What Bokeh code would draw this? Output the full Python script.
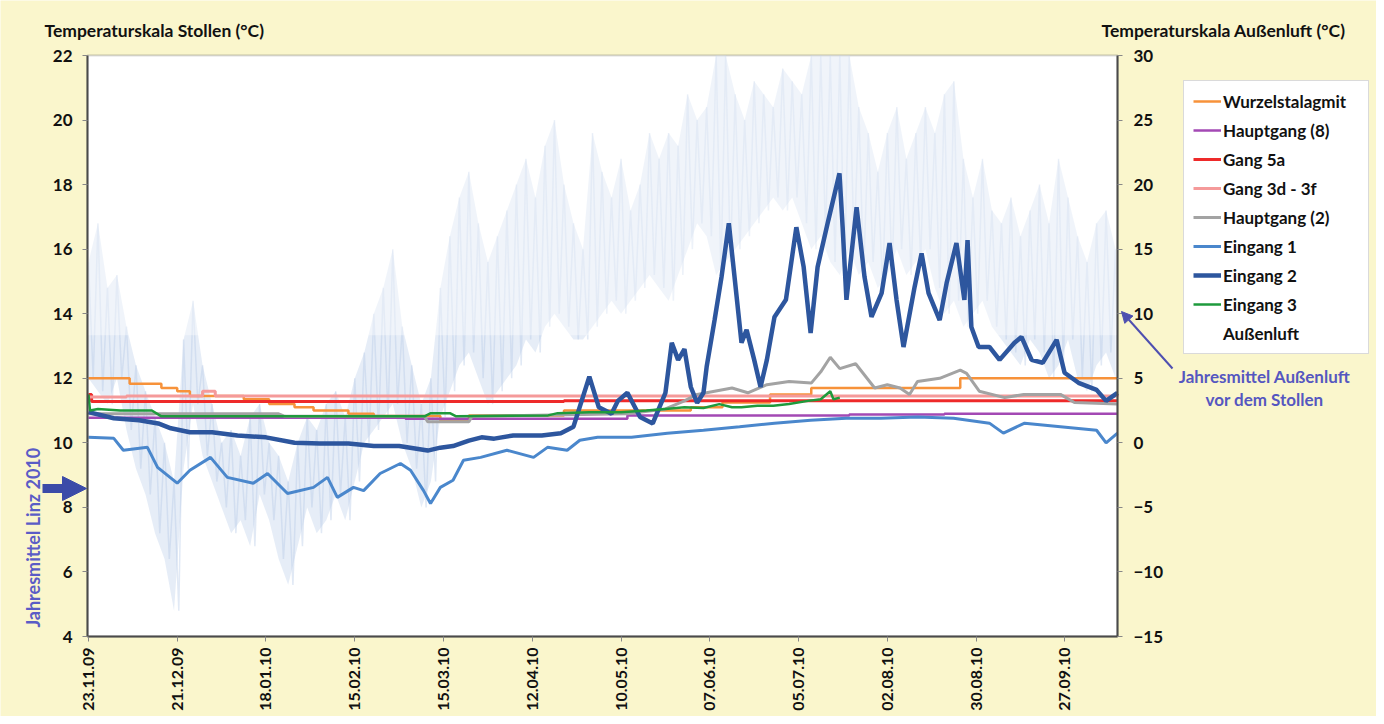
import math
from bokeh.plotting import figure
from bokeh.models import (Range1d, LinearAxis, FixedTicker, Legend, LegendItem,
                          Label, Arrow, NormalHead, BoxAnnotation)
from bokeh.embed import file_html
from bokeh.resources import INLINE

FONT = "Lato"

# ---------------- data ----------------
# x = days since 23.11.2009
tick_days = [0, 28, 56, 84, 112, 140, 168, 196, 224, 252, 280, 308]
tick_labels = ["23.11.09", "21.12.09", "18.01.10", "15.02.10", "15.03.10", "12.04.10",
               "10.05.10", "07.06.10", "05.07.10", "02.08.10", "30.08.10", "27.09.10"]
left_ticks = [4, 6, 8, 10, 12, 14, 16, 18, 20, 22]
right_ticks = [-15, -10, -5, 0, 5, 10, 15, 20, 25, 30]

# Außenluft (right axis), sampled every 3 days: daily max / min
aussen_days = list(range(0, 325, 3))
aussen_max = [14, 17, 12, 13, 9, 6, 4, 2, 0, -3,
              8, 11, 6, 3, 0, 1, -1, 2, 3, 0,
              -1, -3, 0, 2, 1, 3, 4, 2, 5, 7,
              10, 12, 15, 9, 6, 3, 5, 12, 16, 19,
              21, 17, 14, 16, 18, 20, 22, 19, 23, 25,
              20, 17, 15, 24, 21, 19, 22, 18, 20, 24,
              22, 24, 23, 27, 25, 26, 30, 30, 27, 25,
              28, 27, 26, 29, 28, 27, 30, 30, 30, 30,
              30, 26, 24, 21, 24, 26, 22, 24, 26, 24,
              27, 28, 22, 19, 22, 18, 17, 19, 16, 18,
              20, 17, 22, 19, 16, 14, 17, 18, 15]
aussen_min = [5, 4, 3, 5, 1, -2, -4, -7, -9, -13,
              -2, 3, -1, -3, -5, -7, -6, -8, -4, -6,
              -9, -11, -8, -5, -7, -6, -4, -6, -3, 0,
              1, 2, 3, 0, -2, -5, -3, 2, 4, 6,
              7, 5, 3, 4, 5, 6, 8, 7, 9, 10,
              9, 8, 8, 9, 10, 11, 10, 11, 12, 13,
              12, 11, 13, 15, 17, 16, 13, 14, 15, 16,
              17, 18, 19, 18, 19, 17, 15, 16, 14, 13,
              15, 13, 14, 12, 13, 15, 13, 14, 15, 12,
              10, 11, 9, 10, 11, 9, 8, 7, 6, 8,
              7, 5, 6, 8, 5, 4, 6, 7, 5]

# Wurzelstalagmit
wurzel_days = [0, 13, 23, 28, 32, 49, 57, 65, 71, 82, 90, 111, 120, 150, 190, 200, 215, 228, 275, 324.6]
wurzel_vals = [12.0, 11.83, 11.7, 11.6, 11.45, 11.35, 11.2, 11.1, 11.0, 10.9, 10.83, 10.68, 10.85,
               11.0, 11.1, 11.25, 11.5, 11.7, 12.0, 12.0]
# Hauptgang (8)
hg8_days = [0, 100, 170, 240, 270, 324.6]
hg8_vals = [10.78, 10.75, 10.85, 10.88, 10.9, 10.9]
# Gang 5a
g5a_days = [0, 1, 150, 324.6]
g5a_vals = [11.5, 11.28, 11.3, 11.3]
# Gang 3d - 3f
g3d_days = [0, 12, 36, 40, 324.6]
g3d_vals = [11.42, 11.45, 11.6, 11.45, 11.48]
# Hauptgang (2)
hg2_days = [0, 60, 62, 106, 107, 120, 121, 170, 182, 188, 192, 197.5, 203, 208, 214, 221, 228, 231,
            234, 237, 242, 248, 252, 256, 259, 261.5, 268.5, 275, 277, 281, 289, 295, 306.6, 311, 324.6]
hg2_vals = [10.9, 10.9, 10.82, 10.82, 10.65, 10.65, 10.82, 10.9, 11.05, 11.3, 11.5, 11.6, 11.7, 11.55,
            11.8, 11.9, 11.85, 12.2, 12.65, 12.3, 12.45, 11.7, 11.8, 11.7, 11.5, 11.9, 12.0, 12.25,
            12.15, 11.6, 11.4, 11.5, 11.5, 11.25, 11.2]
# Eingang 1
e1_days = [0, 8, 11, 18.6, 21.8, 28, 32, 38.5, 43.8, 52, 56.5, 62.8, 71, 75.4, 78.5, 83.6, 86.8, 92,
           98.4, 101.6, 105.7, 107.9, 111, 115, 118.3, 123.7, 132, 140.4, 144.8, 151, 155, 160.6,
           171.3, 182.6, 194, 205.4, 216.4, 227.8, 239, 250, 261.5, 272.9, 284.2, 288.6, 295.3,
           306.6, 318, 321, 324.6]
e1_vals = [10.17, 10.14, 9.77, 9.86, 9.24, 8.75, 9.15, 9.55, 8.93, 8.75, 9.05, 8.43, 8.62, 8.93,
           8.31, 8.62, 8.52, 9.05, 9.36, 9.15, 8.52, 8.12, 8.62, 8.84, 9.46, 9.55, 9.77, 9.55, 9.86,
           9.77, 10.08, 10.17, 10.17, 10.3, 10.39, 10.5, 10.61, 10.7, 10.76, 10.76, 10.8, 10.76,
           10.61, 10.3, 10.61, 10.5, 10.39, 10.0, 10.3]
# Eingang 2
e2_days = [0, 8, 16, 22, 26, 32, 39, 47, 56, 65, 73, 82, 90, 98, 107, 111, 115, 120, 124, 128, 134,
           143, 149, 153, 158, 161, 165, 167, 170, 174, 178, 182, 184, 186, 188, 190, 192, 194, 195,
           197.5, 199.7, 202, 204, 206, 207.6, 210, 212, 214, 216.4, 220, 223.3, 225.6, 227.8, 230,
           233.4, 236.9, 237.9, 239.1, 242.3, 244.8, 247, 250.2, 252.7, 254.9, 257.1, 260.6, 262.8,
           265, 268.5, 270.7, 273.8, 276.3, 277.3, 278.5, 280.8, 284.2, 287.4, 292.1, 294.3, 297.5,
           301, 305.4, 307.9, 312.3, 318, 321, 324.6]
e2_vals = [10.95, 10.76, 10.7, 10.6, 10.45, 10.33, 10.33, 10.23, 10.17, 10.0, 9.98, 9.98, 9.9, 9.9,
           9.76, 9.85, 9.9, 10.07, 10.17, 10.13, 10.23, 10.23, 10.3, 10.5, 12.05, 11.1, 10.9, 11.3,
           11.55, 10.8, 10.6, 11.55, 13.1, 12.57, 12.9, 11.73, 11.24, 11.55, 12.35, 13.8, 15.14, 16.8,
           14.95, 13.1, 13.5, 12.57, 11.73, 12.57, 13.9, 14.43, 16.68, 15.45, 13.4, 15.45, 16.9,
           18.35, 16.68, 14.43, 17.3, 15.14, 13.9, 14.64, 16.19, 14.43, 12.97, 14.83, 15.87, 14.64,
           13.8, 14.95, 16.19, 14.43, 16.28, 13.59, 12.97, 12.97, 12.57, 13.1, 13.28, 12.57, 12.48,
           13.19, 12.17, 11.86, 11.64, 11.3, 11.55]
# Eingang 3
e3_days = [0, 0.5, 3, 10, 20, 23, 60, 106, 108, 114, 116, 145, 148, 158, 168, 176, 182, 188, 194,
           199, 203, 206, 211, 216, 221, 227, 231, 234, 235, 237]
e3_vals = [11.5, 11.0, 11.05, 11.0, 11.0, 10.82, 10.82, 10.82, 10.92, 10.92, 10.82, 10.85, 10.92,
           10.95, 10.95, 11.0, 11.05, 11.1, 11.08, 11.2, 11.1, 11.1, 11.15, 11.15, 11.2, 11.3, 11.35,
           11.6, 11.35, 11.4]

# ---------------- layout ----------------
W, H = 1376, 716                      # figure size (px)
CL, CR, CT, CB = 87, 1117, 55, 636    # chart area inside the figure (px from top-left)
X0, X1 = -0.3, 324.6                  # visible day span of the chart area
Y0, Y1 = 4, 22                        # left axis span
R0, R1 = -15, 30                      # right axis span
PALE_FROM = 13.33                     # left-axis level above which the outdoor band is paler


def span(a0, a1, p0, p1, total, invert=False):
    s = (a1 - a0) / (p1 - p0)
    if invert:   # pixels counted from top
        return a0 - (total - p1) * s, a1 + p0 * s
    return a0 - p0 * s, a1 + (total - p1) * s


xs, xe = span(X0, X1, CL, CR, W)
ys, ye = span(Y0, Y1, CT, CB, H, invert=True)
rs, re_ = span(R0, R1, CT, CB, H, invert=True)

BG = "#FAF6CC"
p = figure(width=W, height=H, output_backend="svg", toolbar_location=None,
           x_range=Range1d(xs, xe), y_range=Range1d(ys, ye),
           x_axis_location=None, y_axis_location=None,
           min_border=0, min_border_left=0, min_border_right=0,
           min_border_top=0, min_border_bottom=0,
           background_fill_color=BG, border_fill_color=BG)
p.outline_line_color = None
p.grid.visible = False
p.extra_y_ranges = {"aussen": Range1d(rs, re_)}

# white chart area with frame (lowest render level)
p.add_layout(BoxAnnotation(left=X0, right=X1, bottom=Y0, top=Y1, fill_color="white",
                           fill_alpha=1, line_color="#4A4A4A", line_width=2, level="image"))

# axes fixed on the chart area edges
xa = LinearAxis(fixed_location=Y0, bounds=(X0, X1), ticker=FixedTicker(ticks=tick_days))
xa.major_label_overrides = {d: s for d, s in zip(tick_days, tick_labels)}
xa.major_label_orientation = math.pi / 2
ya = LinearAxis(fixed_location=X0, bounds=(Y0, Y1), ticker=FixedTicker(ticks=left_ticks))
ra = LinearAxis(fixed_location=X1, bounds=(R0, R1), y_range_name="aussen",
                ticker=FixedTicker(ticks=right_ticks))
p.add_layout(xa, "below")
p.add_layout(ya, "left")
p.add_layout(ra, "right")
for ax in (xa, ya, ra):
    ax.major_label_text_font = FONT
    ax.major_label_text_font_style = "bold"
    ax.major_label_text_font_size = "17px"
    ax.major_label_text_color = "#111111"
    ax.major_tick_in = 0
    ax.major_tick_out = 5
    ax.major_tick_line_color = "#888888"
    ax.minor_tick_line_color = None
    ax.axis_line_color = "#4A4A4A"
    ax.axis_line_width = 2
xa.major_label_text_font_size = "16px"
ya.major_label_standoff = 10
ra.major_label_standoff = 11
xa.major_label_standoff = 6

# Außenluft: band between daily min and max plus zigzag texture
p.varea(x=aussen_days, y1=aussen_min, y2=aussen_max, y_range_name="aussen",
        fill_color="#C4D4EB", fill_alpha=0.42, level="underlay")
aus_x, aus_y = [], []
for d, hi, lo in zip(aussen_days, aussen_max, aussen_min):
    aus_x += [d, min(d + 1.5, X1)]
    aus_y += [hi, lo]
p.line(aus_x, aus_y, y_range_name="aussen", line_color="#B4C8E6", line_alpha=0.4,
       line_width=1.5, level="underlay")
# the upper part of the outdoor band appears paler in the original
p.add_layout(BoxAnnotation(left=X0, right=X1, bottom=PALE_FROM, top=Y1, fill_color="white",
                           fill_alpha=0.4, line_color=None, level="underlay"))

r_wu = p.step(wurzel_days, wurzel_vals, mode="after", line_color="#F7923A", line_width=2.5)
r_h8 = p.step(hg8_days, hg8_vals, mode="after", line_color="#A349B4", line_width=2.5)
r_5a = p.step(g5a_days, g5a_vals, mode="after", line_color="#EE2A2A", line_width=3)
r_3d = p.step(g3d_days, g3d_vals, mode="after", line_color="#F59A9A", line_width=3)
r_h2 = p.line(hg2_days, hg2_vals, line_color="#A3A3A3", line_width=3)
r_e1 = p.line(e1_days, e1_vals, line_color="#4A87CC", line_width=3)
r_e2 = p.line(e2_days, e2_vals, line_color="#2D569E", line_width=4.5)
r_e3 = p.line(e3_days, e3_vals, line_color="#1E9A3C", line_width=2.5)
r_aus_leg = p.line([], [], line_color="white", line_width=2.5)

# screen positions below are px from the figure's bottom-left
legend = Legend(items=[
    LegendItem(label="Wurzelstalagmit", renderers=[r_wu]),
    LegendItem(label="Hauptgang (8)", renderers=[r_h8]),
    LegendItem(label="Gang 5a", renderers=[r_5a]),
    LegendItem(label="Gang 3d - 3f", renderers=[r_3d]),
    LegendItem(label="Hauptgang (2)", renderers=[r_h2]),
    LegendItem(label="Eingang 1", renderers=[r_e1]),
    LegendItem(label="Eingang 2", renderers=[r_e2]),
    LegendItem(label="Eingang 3", renderers=[r_e3]),
    LegendItem(label="Außenluft", renderers=[r_aus_leg]),
], location=(1183, 362))
legend.label_text_font = FONT
legend.label_text_font_style = "bold"
legend.label_text_font_size = "17px"
legend.label_text_color = "#111111"
legend.glyph_width = 28
legend.glyph_height = 22
legend.label_height = 22
legend.label_width = 136
legend.label_standoff = 2
legend.spacing = 7
legend.padding = 9
legend.margin = 0
legend.border_line_color = "#B5B5B5"
legend.border_line_width = 1
legend.background_fill_color = "white"
legend.background_fill_alpha = 1
p.add_layout(legend)


def lab(text, x, y, color="#111111", align="left", angle=0.0, size="17px"):
    p.add_layout(Label(x=x, y=y, x_units="screen", y_units="screen", text=text,
                       text_font=FONT, text_font_style="bold", text_font_size=size,
                       text_color=color, text_align=align, text_baseline="middle",
                       angle=angle))


lab("Temperaturskala  Stollen (°C)", 44, 686, size="17.5px")
lab("Temperaturskala Außenluft (°C)", 1101, 686, size="17.5px")
lab("Jahresmittel Außenluft", 1264, 340, color="#5557C0", align="center")
lab("vor dem Stollen", 1264, 317, color="#5557C0", align="center")
lab("Jahresmittel  Linz 2010", 32, 181, color="#5A5CC6", align="center", angle=math.pi / 2,
    size="18px")

p.add_layout(Arrow(x_start=42, y_start=228, x_end=86, y_end=228,
                   start_units="screen", end_units="screen",
                   line_color="#3B4BA8", line_width=9, start=None,
                   end=NormalHead(size=24, fill_color="#3B4BA8", line_color="#3B4BA8")))
p.add_layout(Arrow(x_start=1172, y_start=348, x_end=1121, y_end=405,
                   start_units="screen", end_units="screen",
                   line_color="#4E4FB0", line_width=2, start=None,
                   end=NormalHead(size=11, fill_color="#4E4FB0", line_color="#4E4FB0")))

open("out.html", "w").write(file_html(p, INLINE))
